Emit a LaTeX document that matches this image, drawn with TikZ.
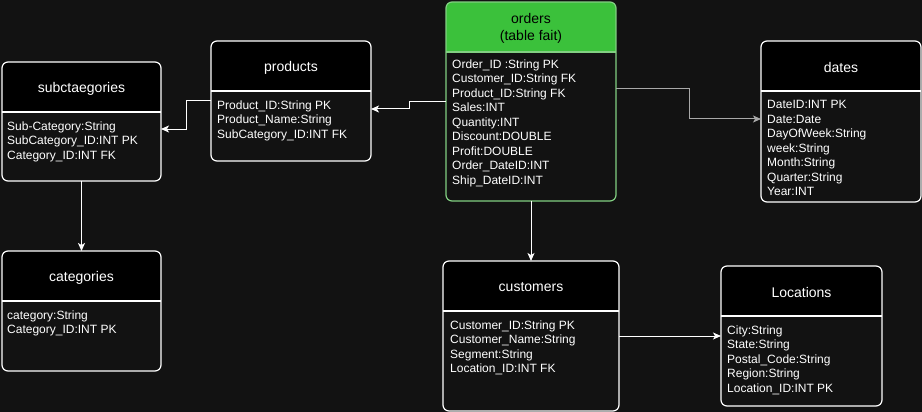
\documentclass[tikz,border=0pt]{standalone}
\usepackage{fontspec}
\setmainfont{Liberation Sans}
\usetikzlibrary{arrows.meta,positioning}

\definecolor{bg}{HTML}{121212}
\definecolor{factgreen}{HTML}{3BC13B}
\definecolor{factline}{HTML}{82CF82}
\definecolor{linkgray}{HTML}{A8A8A8}

\tikzset{
  tbl/.style 2 args={draw=#2, fill=bg, line width=1.2pt, rounded corners=6pt, inner sep=0pt, outer sep=0pt,
    path picture={
      \fill[#1, sharp corners] (path picture bounding box.north west) rectangle ([yshift=-50pt]path picture bounding box.north east);
      \draw[#2, line width=1.2pt, sharp corners] ([yshift=-50pt]path picture bounding box.north west) -- ([yshift=-50pt]path picture bounding box.north east);}},
  dimtbl/.style={tbl={black}{white}},
  facttbl/.style={tbl={factgreen}{factline}}
}
\tikzstyle{ttl} = [font=\fontsize{14}{17}\selectfont, text=white, align=center]
\tikzstyle{fld} = [font=\fontsize{12}{14.5}\selectfont, text=white, align=left, inner sep=0pt]
\tikzstyle{link} = [draw=white, line width=1pt, -{Stealth[length=8pt,width=7pt,inset=2pt]}]

\begin{document}
\begin{tikzpicture}[x=1pt,y=-1pt]
	\useasboundingbox[fill=bg] (0,0) rectangle (922,412);
	% tables
	\node[dimtbl, minimum width=159pt, minimum height=119pt] (subcat) at (81.5,121.5) {};
	\node[ttl] (subcat-t) at ([yshift=-26.5pt]subcat.north) {subctaegories};
	\node[fld, below right=59.5pt and 5pt of subcat.north west] (subcat-f) {Sub-Category:String\\SubCategory\_ID:INT PK\\Category\_ID:INT FK};
	\node[dimtbl, minimum width=160pt, minimum height=120pt] (products) at (291,101) {};
	\node[ttl] (products-t) at ([yshift=-26.5pt]products.north) {products};
	\node[fld, below right=59.5pt and 6pt of products.north west] (products-f) {Product\_ID:String PK\\Product\_Name:String\\SubCategory\_ID:INT FK};
	\node[facttbl, minimum width=170pt, minimum height=199pt] (orders) at (531,101.5) {};
	\node[ttl, text=black] (orders-t) at ([yshift=-26pt]orders.north) {orders\\(table fait)};
	\node[fld, below right=57.5pt and 6pt of orders.north west] (orders-f) {Order\_ID :String PK\\Customer\_ID:String FK\\Product\_ID:String FK\\Sales:INT\\Quantity:INT\\Discount:DOUBLE\\Profit:DOUBLE\\Order\_DateID:INT\\Ship\_DateID:INT};
	\node[dimtbl, minimum width=160pt, minimum height=161pt] (dates) at (841,121.5) {};
	\node[ttl] (dates-t) at ([yshift=-26.5pt]dates.north) {dates};
	\node[fld, below right=59.5pt and 6pt of dates.north west] (dates-f) {DateID:INT PK\\Date:Date\\DayOfWeek:String\\week:String\\Month:String\\Quarter:String\\Year:INT};
	\node[dimtbl, minimum width=159pt, minimum height=120pt] (categories) at (81.5,311) {};
	\node[ttl] (categories-t) at ([yshift=-26.5pt]categories.north) {categories};
	\node[fld, below right=59.5pt and 5pt of categories.north west] (categories-f) {category:String\\Category\_ID:INT PK};
	\node[dimtbl, minimum width=176pt, minimum height=150pt] (customers) at (531,336) {};
	\node[ttl] (customers-t) at ([yshift=-26.5pt]customers.north) {customers};
	\node[fld, below right=59.5pt and 7pt of customers.north west] (customers-f) {Customer\_ID:String PK\\Customer\_Name:String\\Segment:String\\Location\_ID:INT FK};
	\node[dimtbl, minimum width=161pt, minimum height=140pt] (locations) at (801.5,336) {};
	\node[ttl] (locations-t) at ([yshift=-26.5pt]locations.north) {Locations};
	\node[fld, below right=59.5pt and 6pt of locations.north west] (locations-f) {City:String\\State:String\\Postal\_Code:String\\Region:String\\Location\_ID:INT PK};
	% links
	\draw[link] (orders.west) -- ++(-37,0) |- ([yshift=-8pt]products.east);
	\draw[link] (products.west) -- ++(-25,0) |- ([yshift=-7.5pt]subcat.east);
	\draw[link] (subcat.south) -- (categories.north);
	\draw[link, draw=linkgray] ([yshift=12.5pt]orders.east) -- ++(73,0) |- ([yshift=2.5pt]dates.west);
	\draw[link] (orders.south) -- (customers.north);
	\draw[link] (customers.east) -- (locations.west);
\end{tikzpicture}
\end{document}
